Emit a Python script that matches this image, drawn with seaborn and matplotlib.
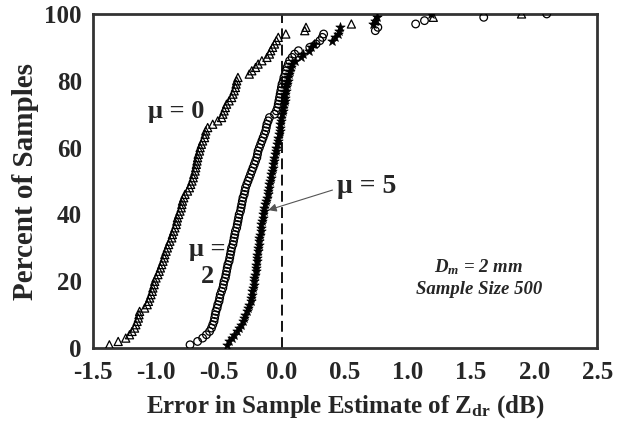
import numpy as np
import pandas as pd
import matplotlib
matplotlib.use("Agg")
import matplotlib.pyplot as plt
import seaborn as sns

# cumulative percent of samples (1..100)
percent = list(range(1, 101))

# error in sample estimate of Zdr (dB), sorted, for each mu
err_mu0 = [-1.37, -1.30, -1.24, -1.21, -1.19, -1.17, -1.16, -1.15, -1.14, -1.135,
           -1.13, -1.09, -1.07, -1.06, -1.05, -1.04, -1.03, -1.025, -1.015, -1.01,
           -1.00, -0.985, -0.975, -0.965, -0.955, -0.945, -0.935, -0.93, -0.92, -0.91,
           -0.90, -0.89, -0.875, -0.87, -0.86, -0.85, -0.84, -0.835, -0.83, -0.82,
           -0.81, -0.80, -0.795, -0.79, -0.78, -0.77, -0.75, -0.735, -0.725, -0.715,
           -0.705, -0.70, -0.69, -0.685, -0.68, -0.675, -0.67, -0.665, -0.655, -0.65,
           -0.64, -0.63, -0.615, -0.61, -0.605, -0.59, -0.55, -0.51, -0.48, -0.47,
           -0.46, -0.45, -0.44, -0.42, -0.40, -0.39, -0.38, -0.37, -0.365, -0.36,
           -0.35, -0.26, -0.24, -0.21, -0.19, -0.16, -0.12, -0.10, -0.09, -0.075,
           -0.06, -0.045, -0.03, 0.03, 0.18, 0.19, 0.55, 0.74, 1.20, 1.90]

err_mu2 = [-0.73, -0.67, -0.63, -0.60, -0.575, -0.56, -0.55, -0.54, -0.535, -0.53,
           -0.525, -0.515, -0.51, -0.50, -0.495, -0.49, -0.48, -0.47, -0.465, -0.46,
           -0.45, -0.445, -0.44, -0.435, -0.43, -0.42, -0.415, -0.41, -0.405, -0.40,
           -0.39, -0.385, -0.38, -0.375, -0.37, -0.36, -0.355, -0.35, -0.345, -0.34,
           -0.33, -0.325, -0.32, -0.315, -0.31, -0.30, -0.295, -0.29, -0.28, -0.27,
           -0.26, -0.25, -0.24, -0.23, -0.22, -0.21, -0.20, -0.195, -0.19, -0.18,
           -0.17, -0.16, -0.15, -0.14, -0.13, -0.125, -0.12, -0.11, -0.10, -0.06,
           -0.045, -0.035, -0.03, -0.025, -0.02, -0.015, -0.01, -0.005, 0.0, 0.01,
           0.015, 0.025, 0.03, 0.04, 0.05, 0.06, 0.08, 0.10, 0.13, 0.22,
           0.27, 0.30, 0.32, 0.33, 0.74, 0.76, 1.06, 1.13, 1.60, 2.10]

err_mu5 = [-0.44, -0.42, -0.40, -0.38, -0.36, -0.34, -0.325, -0.31, -0.30, -0.29,
           -0.28, -0.27, -0.26, -0.25, -0.245, -0.24, -0.235, -0.23, -0.225, -0.22,
           -0.22, -0.215, -0.21, -0.21, -0.205, -0.20, -0.20, -0.195, -0.19, -0.19,
           -0.185, -0.18, -0.18, -0.175, -0.17, -0.17, -0.165, -0.16, -0.155, -0.15,
           -0.145, -0.14, -0.135, -0.125, -0.12, -0.115, -0.11, -0.105, -0.10, -0.095,
           -0.09, -0.085, -0.08, -0.075, -0.07, -0.065, -0.06, -0.055, -0.05, -0.045,
           -0.04, -0.035, -0.03, -0.025, -0.02, -0.02, -0.015, -0.01, -0.005, 0.0,
           0.005, 0.01, 0.015, 0.02, 0.02, 0.025, 0.03, 0.035, 0.04, 0.045,
           0.05, 0.055, 0.06, 0.07, 0.08, 0.10, 0.15, 0.17, 0.21, 0.23,
           0.25, 0.40, 0.42, 0.44, 0.45, 0.46, 0.72, 0.74, 0.75, 1.18]

x_ticks = [-1.5, -1.0, -0.5, 0.0, 0.5, 1.0, 1.5, 2.0, 2.5]
x_ticklabels = ["-1.5", "-1.0", "-0.5", "0.0", "0.5", "1.0", "1.5", "2.0", "2.5"]
y_major = [0, 20, 40, 60, 80, 100]

sns.set_theme(style="white")
plt.rcParams["font.family"] = ["Liberation Serif", "DejaVu Serif"]
plt.rcParams["mathtext.fontset"] = "custom"
plt.rcParams["mathtext.rm"] = "Liberation Serif:bold"
plt.rcParams["mathtext.it"] = "Liberation Serif:bold:italic"
plt.rcParams["mathtext.bf"] = "Liberation Serif:bold"

fig = plt.figure(figsize=(6.24, 4.23), dpi=100)
ax = fig.add_axes([0.149, 0.177, 0.808, 0.790])

df0 = pd.DataFrame({"err": err_mu0, "pct": percent})
df2 = pd.DataFrame({"err": err_mu2, "pct": percent})
df5 = pd.DataFrame({"err": err_mu5, "pct": percent})

sns.scatterplot(data=df0, x="err", y="pct", ax=ax, marker="^", s=34,
                facecolor="none", edgecolor="black", linewidth=0.9, zorder=3)
sns.scatterplot(data=df2, x="err", y="pct", ax=ax, marker="o", s=30,
                facecolor="none", edgecolor="black", linewidth=0.9, zorder=3)
sns.scatterplot(data=df5, x="err", y="pct", ax=ax, marker="*", s=50,
                color="black", edgecolor="black", linewidth=0.5, zorder=4)

ax.axvline(0.0, color="black", linestyle=(0, (6, 3)), linewidth=1.3, zorder=2)

ax.set_xlim(-1.5, 2.5)
ax.set_ylim(0, 100)
ax.set_xticks(x_ticks)
ax.set_xticklabels(x_ticklabels)
ax.set_yticks(y_major)
ax.set_yticks(list(range(10, 100, 20)), minor=True)
ax.tick_params(axis="both", which="both", direction="in", length=10, width=0.8,
               color="#999999", labelsize=18)
ax.tick_params(axis="x", pad=9)
ax.tick_params(axis="y", pad=8)
for lab in ax.get_xticklabels() + ax.get_yticklabels():
    lab.set_fontweight("bold")

for sp in ax.spines.values():
    sp.set_visible(True)
    sp.set_linewidth(2.0)
    sp.set_color("#333333")

ax.set_xlabel(r"Error in Sample Estimate of Z$_{\mathbf{dr}}$ (dB)", fontsize=18,
              fontweight="bold", labelpad=7)
ax.set_ylabel("Percent of Samples", fontsize=21, fontweight="bold", labelpad=4)

ax.text(-0.84, 70.7, "μ = 0", fontsize=19, fontweight="bold", ha="center", va="center")
ax.text(-0.59, 25.5, "μ =\n2", fontsize=19, fontweight="bold", ha="center", va="center",
        linespacing=1.25)
ax.text(0.67, 48.5, "μ = 5", fontsize=20, fontweight="bold", ha="center", va="center")
ax.annotate("", xy=(-0.11, 41.3), xytext=(0.40, 47.3),
            arrowprops=dict(arrowstyle="-|>", color="#555555", lw=0.8,
                            mutation_scale=12, shrinkA=0, shrinkB=0))
ax.text(1.56, 24.3, r"$D_m$ = 2 mm", fontsize=13.5, fontweight="bold", style="italic",
        ha="center", va="center")
ax.text(1.56, 17.4, "Sample Size 500", fontsize=13.5, fontweight="bold", style="italic",
        ha="center", va="center")

fig.savefig("out.png", dpi=100)
